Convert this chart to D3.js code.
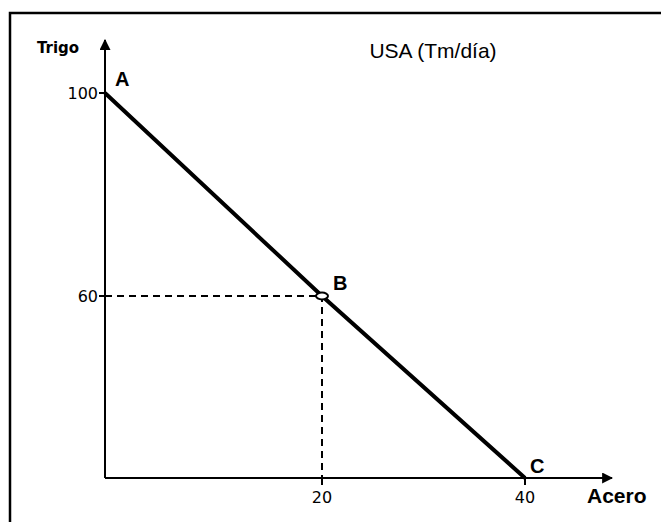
<!DOCTYPE html>
<html>
<head>
<meta charset="utf-8">
<script src="https://cdn.jsdelivr.net/npm/d3@7"></script>
<style>
  body { margin: 0; background: #fff; }
  svg { display: block; }
</style>
</head>
<body>
<div id="chart"></div>
<script>
// datos de la frontera de posibilidades (esquemática)
const pointLabels = ["A", "B", "C"];
const acero = [0, 20, 40];
const trigo = [100, 60, 0];
const xTicks = [20, 40];
const yTicks = [100, 60];

const w = 661, h = 522;
const svg = d3.select("#chart").append("svg")
    .attr("width", w).attr("height", h)
    .style("font-family", "Arial, 'Liberation Sans', sans-serif");

// marco del dibujo (solo bordes izquierdo y superior visibles)
svg.append("path")
    .attr("d", `M10,${h} V13 H${w}`)
    .attr("fill", "none").attr("stroke", "#000").attr("stroke-width", 2.5);

// escalas por tramos: el dibujo original no es proporcional
const x = d3.scaleLinear().domain([0, 20, 40]).range([105, 322, 525]);
const y = d3.scaleLinear().domain([0, 60, 100]).range([478, 296, 93]);

svg.append("defs").append("marker")
    .attr("id", "arrow")
    .attr("viewBox", "0 0 10 10")
    .attr("refX", 9).attr("refY", 5)
    .attr("markerWidth", 11).attr("markerHeight", 11)
    .attr("markerUnits", "userSpaceOnUse")
    .attr("orient", "auto")
    .append("path").attr("d", "M0,0 L10,5 L0,10 Z").attr("fill", "#000");

// ejes con flechas
svg.append("line")
    .attr("x1", x(0)).attr("y1", y(0))
    .attr("x2", 612).attr("y2", y(0))
    .attr("stroke", "#000").attr("stroke-width", 2)
    .attr("marker-end", "url(#arrow)");
svg.append("line")
    .attr("x1", x(0)).attr("y1", y(0))
    .attr("x2", x(0)).attr("y2", 40)
    .attr("stroke", "#000").attr("stroke-width", 2)
    .attr("marker-end", "url(#arrow)");

// líneas punteadas hacia B
const bx = x(acero[1]), by = y(trigo[1]);
svg.append("path")
    .attr("d", `M${x(0)},${by} H${bx} V${y(0)}`)
    .attr("fill", "none").attr("stroke", "#000")
    .attr("stroke-width", 2).attr("stroke-dasharray", "7,5");

// ticks
svg.selectAll(".ytick").data(yTicks).join("line")
    .attr("x1", x(0) - 6).attr("x2", x(0) + 2)
    .attr("y1", d => y(d)).attr("y2", d => y(d))
    .attr("stroke", "#000").attr("stroke-width", 2);
svg.selectAll(".ylab").data(yTicks).join("text")
    .attr("x", x(0) - 7).attr("y", d => y(d) + 6)
    .attr("text-anchor", "end")
    .style("font-family", "'DejaVu Sans', sans-serif")
    .style("font-size", "16px")
    .text(d => d);

svg.selectAll(".xtick").data(xTicks).join("line")
    .attr("x1", d => x(d)).attr("x2", d => x(d))
    .attr("y1", y(0) - 2).attr("y2", y(0) + 7)
    .attr("stroke", "#000").attr("stroke-width", 2);
svg.selectAll(".xlab").data(xTicks).join("text")
    .attr("x", d => x(d)).attr("y", y(0) + 25)
    .attr("text-anchor", "middle")
    .style("font-family", "'DejaVu Sans', sans-serif")
    .style("font-size", "16px")
    .text(d => d);

// frontera
const line = d3.line().x(d => x(d[0])).y(d => y(d[1]));
svg.append("path")
    .datum(acero.map((a, i) => [a, trigo[i]]))
    .attr("d", line)
    .attr("fill", "none").attr("stroke", "#000").attr("stroke-width", 4);

// punto B
svg.append("ellipse")
    .attr("cx", bx).attr("cy", by)
    .attr("rx", 6).attr("ry", 3.5)
    .attr("fill", "#fff").attr("stroke", "#000").attr("stroke-width", 2);

// etiquetas de los puntos
const labelOffset = [[10, -7], [11, -6], [5, -5]];
svg.selectAll(".plab").data(pointLabels).join("text")
    .attr("x", (d, i) => x(acero[i]) + labelOffset[i][0])
    .attr("y", (d, i) => y(trigo[i]) + labelOffset[i][1])
    .style("font-size", "20px").style("font-weight", "bold")
    .text(d => d);

// títulos
svg.append("text")
    .attr("x", 433).attr("y", 58)
    .attr("text-anchor", "middle")
    .style("font-size", "21px")
    .text("USA (Tm/día)");
svg.append("text")
    .attr("x", 37).attr("y", 53)
    .style("font-size", "15px").style("font-weight", "bold")
    .style("font-family", "'DejaVu Sans', sans-serif")
    .text("Trigo");
svg.append("text")
    .attr("x", 587).attr("y", 503)
    .style("font-size", "21px").style("font-weight", "bold")
    .text("Acero");
</script>
</body>
</html>
